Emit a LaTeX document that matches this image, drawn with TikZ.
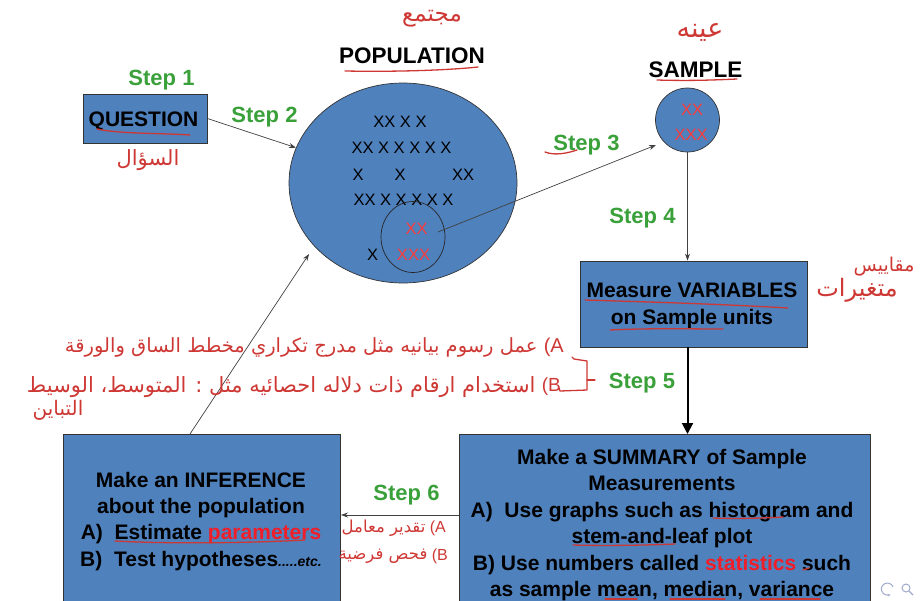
\documentclass[tikz,border=0pt]{standalone}
\usepackage{fontspec}
\setmainfont{Liberation Sans}
\newfontfamily\arabicfont[Script=Arabic]{DejaVu Sans}
\TeXXeTstate=1
\usetikzlibrary{shapes.geometric,arrows.meta}
\definecolor{boxblue}{RGB}{79,129,189}
\definecolor{stepgreen}{RGB}{58,160,58}
\definecolor{pen}{RGB}{206,56,52}
\definecolor{hired}{RGB}{240,30,40}
\definecolor{xred}{RGB}{250,60,60}
\definecolor{navc}{RGB}{160,170,205}
\tikzset{
  box/.style={draw=black!80, line width=0.8pt, fill=boxblue, inner sep=0pt},
  steptxt/.style={text=stepgreen, font=\fontsize{22}{26}\selectfont\bfseries, anchor=base, inner sep=0pt},
  titletxt/.style={font=\fontsize{22.5}{26}\selectfont\bfseries, anchor=base, inner sep=0pt},
  boxtxt/.style={font=\fontsize{21}{26.5}\selectfont\bfseries, align=center, inner sep=0pt},
  xs/.style={font=\fontsize{16.5}{20}\selectfont, anchor=base, inner sep=0pt},
  conn/.style={draw=black!75, line width=0.7pt, -{Stealth[length=7pt,width=5pt]}},
  ink/.style={draw=pen, line width=1.3pt, line cap=round, line join=round},
  arab/.style={text=pen, inner sep=0pt, font=\arabicfont\fontsize{16}{20}\selectfont},
  latnote/.style={text=pen, inner sep=0pt, font=\fontsize{19}{22}\selectfont},
}
\begin{document}
\begin{tikzpicture}[x=1pt,y=-1pt]
\useasboundingbox (0,0) rectangle (920,600);

% ---- QUESTION ----
\node[box, minimum width=124pt, minimum height=49pt] (q) at (145,118.5) {};
\node[titletxt, font=\fontsize{21}{26}\selectfont\bfseries] (qt) at (143.5,126) {QUESTION};
\node[steptxt] (s1) at (161.5,85) {Step 1};
\node[arab, font=\arabicfont\fontsize{21}{24}\selectfont] (qar) at (148,160) {\beginR السؤال\endR};

% ---- POPULATION ----
\node[ellipse, draw=black!80, line width=0.7pt, fill=boxblue, minimum width=228pt, minimum height=200pt, inner sep=0pt] (pop) at (403,183) {};
\node[titletxt] (popt) at (412,63) {POPULATION};
\node[arab, font=\arabicfont\fontsize{23}{26}\selectfont] (popar) at (432,19) {\beginR مجتمع\endR};
\node[xs] (r1) at (400,127) {XX X X};
\node[xs] (r2) at (401.5,153) {XX X X X X X};
\node[xs] (r3a) at (358,180) {X};
\node[xs] (r3b) at (400,180) {X};
\node[xs] (r3c) at (463,180) {XX};
\node[xs] (r4) at (403.5,205) {XX X X X X X};
\node[ellipse, draw=black!85, line width=0.7pt, minimum width=64pt, minimum height=71pt, inner sep=0pt] (sub) at (413,237) {};
\node[xs, text=xred] (sr1) at (416.5,234) {XX};
\node[xs, text=xred] (sr2) at (413.5,260) {XXX};
\node[xs] (sr3) at (372.5,260) {X};

% ---- SAMPLE ----
\node[circle, draw=black!80, line width=0.7pt, fill=boxblue, minimum size=64pt, inner sep=0pt] (samp) at (687.5,120) {};
\node[titletxt] (sampt) at (695.5,77) {SAMPLE};
\node[arab, font=\arabicfont\fontsize{27}{30}\selectfont] (sampar) at (700,32) {\beginR عينه\endR};
\node[xs, text=xred] (x1) at (692,115) {XX};
\node[xs, text=xred] (x2) at (691,140) {XXX};

% ---- MEASURE ----
\node[box, minimum width=227pt, minimum height=86pt] (meas) at (693.5,304) {};
\node[boxtxt, font=\fontsize{21}{27}\selectfont\bfseries, anchor=north] (meast) at (692,282.7) {Measure VARIABLES\\on Sample units};
\node[arab, font=\arabicfont\fontsize{19}{22}\selectfont] (measar1) at (884,267) {\beginR مقاييس\endR};
\node[arab, font=\arabicfont\fontsize{24}{26}\selectfont] (measar2) at (857,290) {\beginR متغيرات\endR};

% ---- SUMMARY ----
\node[box, anchor=north west, minimum width=411pt, minimum height=180pt] (sumb) at (459,434) {};
\node[boxtxt, anchor=north] (sumt) at (662,448.7) {Make a SUMMARY of Sample\\Measurements\\A)\ \ Use graphs such as histogram and\\stem-and-leaf plot\\B) Use numbers called \textcolor{hired}{statistics} such\\as sample mean, median, variance};

% ---- INFERENCE ----
\node[box, anchor=north west, minimum width=277pt, minimum height=180pt] (infb) at (63,434) {};
\node[boxtxt, font=\fontsize{21}{26.3}\selectfont\bfseries, anchor=north] (inft) at (201,471.7) {Make an INFERENCE\\about the population\\A)\ \ Estimate \textcolor{hired}{parameters}\\B)\ \ Test hypotheses{\fontsize{14}{16}\selectfont\itshape .....etc.}};

% ---- connectors ----
\draw[conn] (q.east) -- (pop);
\node[steptxt] (s2) at (264.5,122) {Step 2};

\coordinate (s3a) at (438,232);
\coordinate (s3b) at (656,145);
\draw[conn] (s3a) -- (s3b);
\node[steptxt] (s3) at (586.5,150) {Step 3};

\draw[conn] (samp.south) -- (samp.south |- meas.north);
\node[steptxt] (s4) at (642.5,223) {Step 4};

\draw[draw=black, line width=2pt, -{Triangle[length=11pt,width=11pt]}] (samp.south |- meas.south) -- (samp.south |- sumb.north);
\node[steptxt] (s5) at (642,388) {Step 5};

\coordinate (s6a) at (459,515);
\coordinate (s6b) at (341,515);
\draw[conn] (s6a) -- (s6b);
\node[steptxt] (s6) at (406.5,500) {Step 6};

\coordinate (infa) at (190,434);
\coordinate (infp) at (309,254);
\draw[conn] (infa) -- (infp);

% ---- Arabic notes ----
\node[latnote, font=\fontsize{20}{22}\selectfont, anchor=east] (laL) at (564,347) {(A};
\node[arab, font=\arabicfont\fontsize{19.5}{24}\selectfont, anchor=east] (la) at ([xshift=-6pt]laL.west) {\beginR عمل رسوم بيانيه مثل مدرج تكراري مخطط الساق والورقة\endR};
\node[latnote, anchor=east] (lbL) at (561,387) {(B};
\node[arab, font=\arabicfont\fontsize{21}{24}\selectfont, anchor=east] (lb) at ([xshift=-6pt]lbL.west) {\beginR استخدام ارقام ذات دلاله احصائيه مثل : المتوسط، الوسيط\endR};
\node[arab, font=\arabicfont\fontsize{20}{24}\selectfont] (lc) at (58,410) {\beginR التباين\endR};
\node[latnote, font=\fontsize{16}{20}\selectfont, anchor=east] (naL) at (446,528) {(A};
\node[arab, font=\arabicfont\fontsize{16.5}{20}\selectfont, anchor=east] (na) at ([xshift=-4pt]naL.west) {\beginR تقدير معامل\endR};
\node[latnote, font=\fontsize{16}{20}\selectfont, anchor=east] (nbL) at (448,556) {(B};
\node[arab, font=\arabicfont\fontsize{16.5}{20}\selectfont, anchor=east] (nb) at ([xshift=-4pt]nbL.west) {\beginR فحص فرضية\endR};
\draw[ink] (572,357) -- (574,359) -- (587,361) -- (587,390) -- (560,391) -- (559,388);
\draw[ink] (587,380) -- (595,380);

% ---- red underlines ----
\draw[ink] (345,71) .. controls (400,72) and (450,70) .. (478,67);
\draw[ink] (657,80) .. controls (690,81) and (715,80) .. (737,79);
\draw[ink] (97,129) .. controls (120,134) and (160,133) .. (190,135);
\draw[ink] (585,300) .. controls (650,302) and (720,304) .. (788,308);
\draw[ink] (610,330) .. controls (650,328) and (690,329) .. (723,329);
\draw[ink] (545,152) .. controls (555,156) and (568,153) .. (577,150);
\draw[ink] (713,518) .. controls (740,519) and (765,518) .. (783,517);
\draw[ink] (573,545) .. controls (610,546) and (650,545) .. (675,544);
\draw[ink] (803,570) -- (809,568);
\draw[ink] (605,599) -- (637,599);
\draw[ink] (670,599) -- (725,599);
\draw[ink] (760,599) -- (820,599);
\draw[ink] (115,541) .. controls (170,544) and (250,543) .. (305,540);

% ---- navigation symbols ----
\draw[navc, line width=1pt, -{Stealth[length=3pt,width=3pt]}] (893,587) arc[start angle=20, end angle=300, x radius=6pt, y radius=6pt];
\draw[navc, line width=1pt] (906,588) circle[radius=4pt];
\draw[navc, line width=1.2pt] (909,591) -- (913,595);
\end{tikzpicture}
\end{document}
